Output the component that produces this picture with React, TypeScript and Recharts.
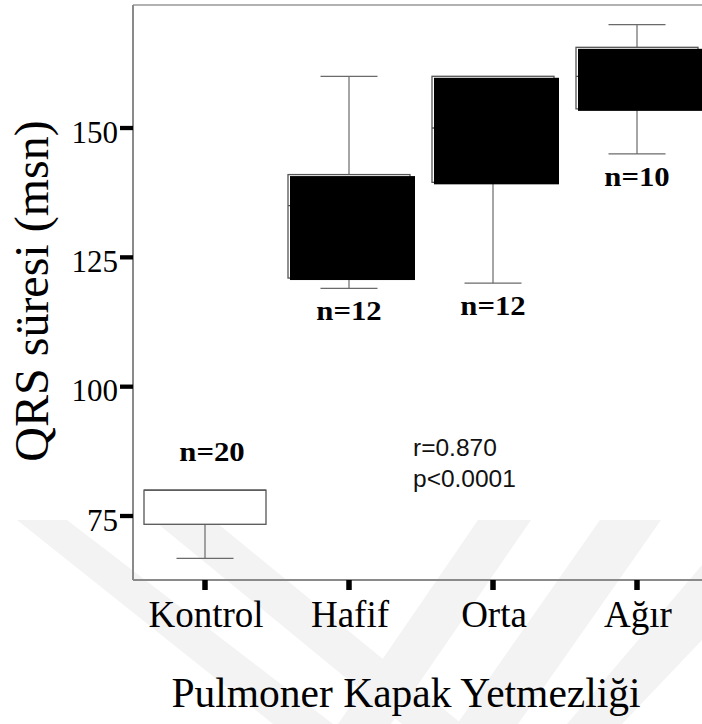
import React from 'react';
import { ComposedChart, Bar, XAxis, YAxis, ReferenceLine, Customized } from 'recharts';

// ---- data ----
const categories = ['Kontrol', 'Hafif', 'Orta', 'Ağır'];
const minValues = [66.8, 119, 120, 145];
const q1Values = [73.4, 121, 139.5, 153.7];
const medianValues = [80, 135, 150, 160];
const q3Values = [80, 141, 160, 165.6];
const maxValues = [80, 160, 160, 170];
const nLabels = ['n=20', 'n=12', 'n=12', 'n=10'];
const yTicks = [75, 100, 125, 150];
const Y_DOMAIN: [number, number] = [62.63, 173.78];
const xTitle = 'Pulmoner Kapak Yetmezliği';
const yTitle = 'QRS süresi (msn)';
const statLines = ['r=0.870', 'p<0.0001'];

// ---- style ----
const SERIF = '"Liberation Serif", "Times New Roman", serif';
const SANS = '"Liberation Sans", Arial, sans-serif';
const FILLED = [false, true, true, true];
const LABEL_ABOVE = [true, false, false, false];

const data = categories.map((name, i) => ({
  name,
  min: minValues[i],
  q1: q1Values[i],
  median: medianValues[i],
  q3: q3Values[i],
  max: maxValues[i],
  n: nLabels[i],
  box: [q1Values[i], q3Values[i]],
}));

const BoxShape = (props: any) => {
  const { x, y, width, height, payload, index } = props;
  const ppu = height / (payload.q3 - payload.q1);
  const py = (v: number) => y + (payload.q3 - v) * ppu;
  const cx = x + width / 2;
  const cap = 28.5;
  const wStroke = '#6a6a6a';
  const bStroke = '#555';
  const labelY = LABEL_ABOVE[index] ? py(payload.q3) - 29 : py(payload.min) + 32;
  return (
    <g>
      {payload.max > payload.q3 && (
        <g>
          <line x1={cx} x2={cx} y1={py(payload.q3)} y2={py(payload.max)} stroke={wStroke} strokeWidth={1.2} />
          <line x1={cx - cap} x2={cx + cap} y1={py(payload.max)} y2={py(payload.max)} stroke={wStroke} strokeWidth={1.2} />
        </g>
      )}
      {payload.min < payload.q1 && (
        <g>
          <line x1={cx} x2={cx} y1={py(payload.q1)} y2={py(payload.min)} stroke={wStroke} strokeWidth={1.2} />
          <line x1={cx - cap} x2={cx + cap} y1={py(payload.min)} y2={py(payload.min)} stroke={wStroke} strokeWidth={1.2} />
        </g>
      )}
      <rect x={x} y={y} width={width} height={height} fill="#fff" stroke={bStroke} strokeWidth={1.3} />
      <line x1={x} x2={x + width} y1={py(payload.median)} y2={py(payload.median)} stroke={bStroke} strokeWidth={1.3} />
      {FILLED[index] && (
        <rect x={x + 2} y={y + 1.5} width={width + 3} height={height + 0.5} fill="#000" />
      )}
      <text
        transform={`translate(${cx + (LABEL_ABOVE[index] ? 7 : 0)},${labelY}) scale(1.12,1)`}
        textAnchor="middle"
        fontFamily={SERIF}
        fontWeight="bold"
        fontSize={27.5}
        fill="#000"
      >
        {payload.n}
      </text>
    </g>
  );
};

const YTick = (props: any) => {
  const { x, y, payload } = props;
  return (
    <text x={x} y={y + 14.5} textAnchor="end" fontFamily={SERIF} fontSize={31} fill="#000">
      {payload.value}
    </text>
  );
};

const XTick = (props: any) => {
  const { x, y, payload } = props;
  return (
    <text x={x + 1} y={y + 37} textAnchor="middle" fontFamily={SERIF} fontSize={37} fill="#000">
      {payload.value}
    </text>
  );
};

const Overlay = () => (
  <g>
    <text x={406} y={707} textAnchor="middle" fontFamily={SERIF} fontSize={41.5} fill="#000">
      {xTitle}
    </text>
    <text
      transform="translate(48,291) rotate(-90)"
      textAnchor="middle"
      fontFamily={SERIF}
      fontSize={48}
      fill="#000"
    >
      {yTitle}
    </text>
    {statLines.map((s, i) => (
      <text key={s} x={413} y={456 + i * 31} fontFamily={SANS} fontSize={24.5} fill="#111">
        {s}
      </text>
    ))}
  </g>
);

const Watermark = () => (
  <svg width={702} height={724} style={{ position: 'absolute', left: 0, top: 0 }}>
    <g fill="#f3f3f3">
      <polygon points="17,520 67,520 333,724 273,724" />
      <polygon points="157,523 217,523 462,724 402,724" />
      <polygon points="478,520 531,520 391,724 338,724" />
      <polygon points="600,520 661,520 518,724 457,724" />
      <polygon points="702,565 702,640 622,724 567,724" />
    </g>
  </svg>
);

export default function App() {
  return (
    <div
      style={{
        position: 'absolute',
        left: 0,
        top: 0,
        width: 702,
        height: 724,
        overflow: 'hidden',
        background: '#fff',
      }}
    >
      <Watermark />
      <div style={{ position: 'absolute', left: 0, top: 0 }}>
        <ComposedChart width={712} height={724} data={data} margin={{ top: 5, right: 3, bottom: 0, left: 0 }}>
          <XAxis
            dataKey="name"
            height={144}
            axisLine={{ stroke: '#8a8a8a', strokeWidth: 2 }}
            tickLine={{ stroke: '#000', strokeWidth: 5.5 }}
            tickSize={10}
            tickMargin={0}
            tick={<XTick />}
            interval={0}
          />
          <YAxis
            width={133}
            domain={Y_DOMAIN}
            allowDataOverflow
            ticks={yTicks}
            axisLine={{ stroke: '#8a8a8a', strokeWidth: 2 }}
            tickLine={{ stroke: '#000', strokeWidth: 4.3 }}
            tickSize={13}
            tickMargin={2}
            tick={<YTick />}
          />
          <ReferenceLine y={Y_DOMAIN[1]} stroke="#999" strokeWidth={1.5} />
          <Bar dataKey="box" barSize={122} shape={<BoxShape />} isAnimationActive={false} />
          <Customized component={Overlay} />
        </ComposedChart>
      </div>
    </div>
  );
}
